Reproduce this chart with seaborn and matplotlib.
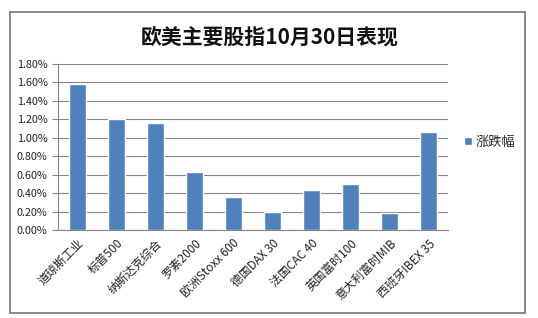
import matplotlib
matplotlib.use("Agg")
import matplotlib.pyplot as plt
import seaborn as sns
import pandas as pd
from matplotlib.patches import Rectangle
from matplotlib.ticker import FuncFormatter

categories = ["道琼斯工业", "标普500", "纳斯达克综合", "罗素2000", "欧洲Stoxx 600",
              "德国DAX 30", "法国CAC 40", "英国富时100", "意大利富时MIB", "西班牙IBEX 35"]
values = [1.58, 1.20, 1.16, 0.63, 0.36, 0.20, 0.43, 0.50, 0.18, 1.06]
series_name = "涨跌幅"
yticks = [0.0, 0.2, 0.4, 0.6, 0.8, 1.0, 1.2, 1.4, 1.6, 1.8]
title = "欧美主要股指10月30日表现"

sns.set_theme(style="white")
plt.rcParams["font.family"] = ["Noto Sans CJK SC", "DejaVu Sans"]

df = pd.DataFrame({"cat": categories, "val": values, "series": series_name})

fig = plt.figure(figsize=(5.38, 3.18), dpi=100)
fig.patch.set_facecolor("white")
ax = fig.add_axes([58/538, 1-230/318, 390/538, (230-64)/318])

sns.barplot(data=df, x="cat", y="val", hue="series", palette=["#4F81BD"],
            width=0.42, ax=ax, saturation=1, legend=True)

ax.set_xlim(-0.5, 9.5)
ax.set_ylim(0, 1.8)
ax.set_yticks(yticks)
ax.yaxis.set_major_formatter(FuncFormatter(lambda v, p: f"{v:.2f}%"))
ax.grid(axis="y", color="#868686", linewidth=0.8)
ax.set_axisbelow(True)
for s in ["top", "right"]:
    ax.spines[s].set_visible(False)
for s in ["left", "bottom"]:
    ax.spines[s].set_color("#868686")
    ax.spines[s].set_linewidth(0.8)

ax.set_xticks(range(len(categories)))
ax.set_xticklabels(categories, rotation=45, ha="right", rotation_mode="anchor",
                   fontsize=8.5, color="#222222")
ax.set_xticks([i + 0.5 for i in range(-1, len(categories))], minor=True)
ax.tick_params(axis="x", which="major", length=0, pad=5)
ax.tick_params(axis="x", which="minor", length=4, direction="out", color="#868686", width=0.8)
ax.tick_params(axis="y", length=4, direction="out", color="#868686", width=0.8,
               labelsize=7.8, labelcolor="#222222", left=True)
ax.set_xlabel("")
ax.set_ylabel("")

leg = ax.legend(loc="center left", bbox_to_anchor=(1.01, 0.53), frameon=False,
                fontsize=9.5, handlelength=0.6, handleheight=0.6, handletextpad=0.3)

fig.text(270/538, 1-37/318, title, ha="center", va="center", fontsize=15,
         fontweight="bold", color="#111111")

fig.patches.append(Rectangle((10/538, 1-313/318), 515/538, 301/318,
                             transform=fig.transFigure, fill=False,
                             edgecolor="#7f7f7f", linewidth=1.3))

fig.savefig("out.png", dpi=100)
